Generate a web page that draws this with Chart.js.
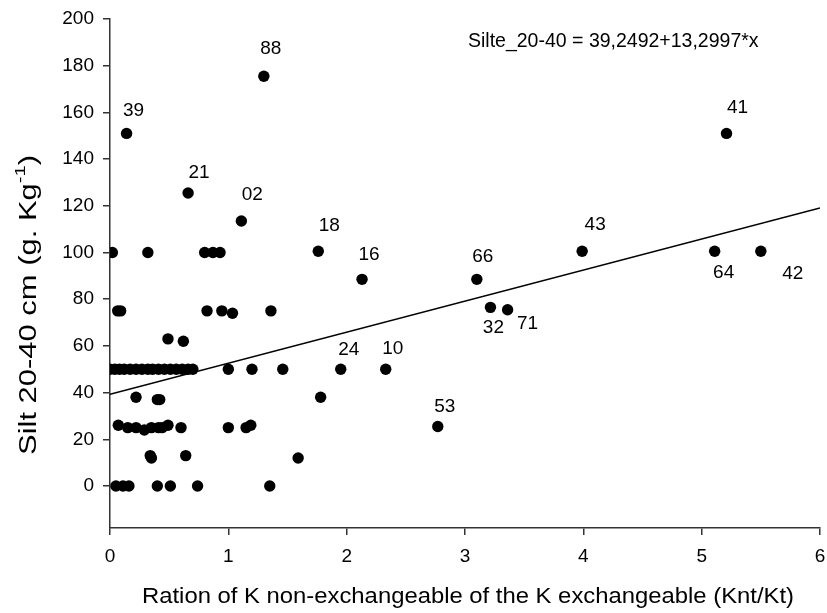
<!DOCTYPE html>
<html>
<head>
<meta charset="utf-8">
<script src="https://cdn.jsdelivr.net/npm/chart.js@4/dist/chart.umd.min.js"></script>
<style>
    html, body { margin: 0; padding: 0; background: #fff; }
    #wrap { width: 827px; height: 613px; }
</style>
</head>
<body>
<div id="wrap"><canvas id="chart"></canvas></div>
<script>
// unlabelled samples
const sampleX = [
    0.02, 0.32, 0.80, 0.87, 0.93,
    0.065, 0.09, 0.82, 0.945, 1.035, 1.36,
    0.49, 0.62,
    0.00, 0.04, 0.08, 0.12, 0.17, 0.22, 0.27, 0.32, 0.36, 0.41, 0.46, 0.51, 0.56, 0.61, 0.66, 0.70, 1.00, 1.20, 1.46,
    0.22, 0.40, 0.42, 1.78,
    0.07, 0.15, 0.22, 0.29, 0.35, 0.41, 0.44, 0.49, 0.60, 1.00, 1.15, 1.19,
    0.34, 0.35, 0.64, 1.59,
    0.05, 0.11, 0.16, 0.40, 0.51, 0.74, 1.35
];
const sampleY = [
    100, 100, 100, 100, 100,
    75, 75, 75, 75, 74, 75,
    63, 62,
    50, 50, 50, 50, 50, 50, 50, 50, 50, 50, 50, 50, 50, 50, 50, 50, 50, 50, 50,
    38, 37, 37, 38,
    26, 25, 25, 24, 25, 25, 25, 26, 25, 25, 25, 26,
    13, 12, 13, 12,
    0, 0, 0, 0, 0, 0, 0
];

// labelled samples
const labelNames = ['39', '88', '21', '02', '18', '16', '66', '43', '41', '64', '42', '32', '71', '24', '10', '53'];
const labelX = [0.14, 1.30, 0.66, 1.11, 1.76, 2.13, 3.10, 3.99, 5.21, 5.11, 5.50, 3.215, 3.36, 1.95, 2.33, 2.77];
const labelY = [151, 175.5, 125.5, 113.5, 100.5, 88.5, 88.5, 100.5, 151, 100.5, 100.5, 76.5, 75.5, 50, 50, 25.5];

// regression line end points
const fitX = [0, 6];
const fitY = [39.2492, 119.0474];
const equation = 'Silte_20-40 = 39,2492+13,2997*x';

const xTicks = [0, 1, 2, 3, 4, 5, 6];
const yTicks = [0, 20, 40, 60, 80, 100, 120, 140, 160, 180, 200];

const xTitle = 'Ration of K non-exchangeable of the K exchangeable (Knt/Kt)';
const yTitle = ['Silt 20-40 cm (g. Kg', '-1', ')'];

const FONT = "'Liberation Sans', Arial, sans-serif";

// where each label sits relative to its dot
const labelOffsets = {
    '39': [7, -23], '88': [7, -27], '21': [11, -20], '02': [11, -26],
    '18': [11, -26], '16': [7, -25], '66': [6, -23], '43': [13, -27],
    '41': [11, -26], '64': [9, 21], '42': [32, 22], '32': [3, 20],
    '71': [20, 14], '24': [8, -19], '10': [7, -20], '53': [7, -20]
};

const textPlugin = {
    id: 'texts',
    afterDatasetsDraw(chart) {
        const ctx = chart.ctx;
        const area = chart.chartArea;
        ctx.save();
        ctx.fillStyle = '#000';

        // point labels
        ctx.font = '19px ' + FONT;
        ctx.textAlign = 'center';
        ctx.textBaseline = 'middle';
        const meta = chart.getDatasetMeta(1);
        meta.data.forEach((pt, i) => {
            const name = labelNames[i];
            const off = labelOffsets[name] || [0, -20];
            ctx.fillText(name, pt.x + off[0], pt.y + off[1]);
        });

        // equation
        ctx.textAlign = 'left';
        ctx.textBaseline = 'alphabetic';
        ctx.font = '19.5px ' + FONT;
        ctx.fillText(equation, 468, 47);

        // x title, stretched to the width it has in the figure
        ctx.save();
        ctx.font = '22px ' + FONT;
        ctx.textAlign = 'center';
        ctx.textBaseline = 'middle';
        const xw = ctx.measureText(xTitle).width;
        const cx = (area.left + area.right) / 2 + 3;
        ctx.translate(cx, 597);
        ctx.scale(652 / xw, 1);
        ctx.fillText(xTitle, 0, 0);
        ctx.restore();

        // y title with superscript
        ctx.save();
        ctx.translate(30, 305);
        ctx.rotate(-Math.PI / 2);
        ctx.textBaseline = 'middle';
        ctx.textAlign = 'left';
        ctx.font = '23px ' + FONT;
        const wMain = ctx.measureText(yTitle[0]).width;
        const wTail = ctx.measureText(yTitle[2]).width;
        ctx.font = '15px ' + FONT;
        const wSup = ctx.measureText(yTitle[1]).width;
        const total = wMain + wSup + wTail;
        ctx.scale(300 / total, 1);
        let x = -total / 2;
        ctx.font = '23px ' + FONT;
        ctx.fillText(yTitle[0], x, 0);
        x += wMain;
        ctx.font = '15px ' + FONT;
        ctx.fillText(yTitle[1], x, -9);
        x += wSup;
        ctx.font = '23px ' + FONT;
        ctx.fillText(yTitle[2], x, 0);
        ctx.restore();

        ctx.restore();
    }
};

new Chart(document.getElementById('chart'), {
    type: 'scatter',
    plugins: [textPlugin],
    data: {
        datasets: [
            {
                label: 'samples',
                data: sampleX.map((x, i) => ({ x, y: sampleY[i] })),
                backgroundColor: '#000',
                borderWidth: 0,
                pointRadius: 5.7
            },
            {
                label: 'labelled',
                data: labelX.map((x, i) => ({ x, y: labelY[i] })),
                backgroundColor: '#000',
                borderWidth: 0,
                pointRadius: 5.7
            },
            {
                type: 'line',
                label: 'fit',
                data: fitX.map((x, i) => ({ x, y: fitY[i] })),
                borderColor: '#000',
                borderWidth: 1.5,
                pointRadius: 0,
                fill: false
            }
        ]
    },
    options: {
        responsive: true,
        maintainAspectRatio: false,
        animation: false,
        layout: {
            padding: { top: 19, right: 7, left: 0, bottom: 0 }
        },
        plugins: {
            legend: { display: false },
            tooltip: { enabled: false }
        },
        scales: {
            x: {
                type: 'linear',
                min: 0,
                max: 6,
                afterBuildTicks(scale) {
                    scale.ticks = xTicks.map(v => ({ value: v }));
                },
                afterFit(scale) {
                    scale.height = 85;
                    scale.paddingLeft = 0;
                    scale.paddingRight = 0;
                },
                ticks: {
                    color: '#000',
                    padding: 10,
                    font: { family: FONT, size: 19 }
                },
                grid: {
                    drawOnChartArea: false,
                    drawTicks: true,
                    tickLength: 7,
                    color: '#333',
                    lineWidth: 1.5
                },
                border: { color: '#333', width: 1.5 }
            },
            y: {
                type: 'linear',
                min: -18,
                max: 200,
                afterBuildTicks(scale) {
                    scale.ticks = yTicks.map(v => ({ value: v }));
                },
                afterFit(scale) {
                    scale.width = 110;
                    scale.paddingTop = 0;
                    scale.paddingBottom = 0;
                },
                ticks: {
                    color: '#000',
                    padding: 9,
                    font: { family: FONT, size: 19 }
                },
                grid: {
                    drawOnChartArea: false,
                    drawTicks: true,
                    tickLength: 7,
                    color: '#333',
                    lineWidth: 1.5
                },
                border: { color: '#333', width: 1.5 }
            }
        }
    }
});
</script>
</body>
</html>
